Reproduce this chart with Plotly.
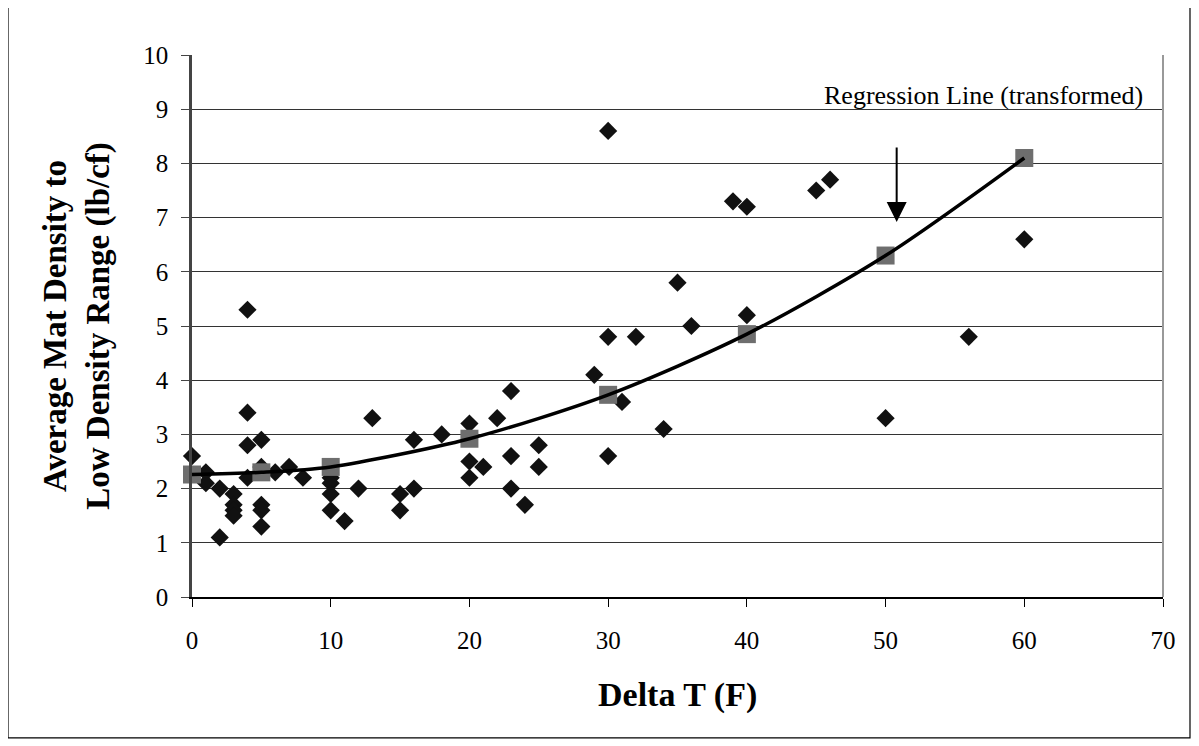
import plotly.graph_objects as go

# Observed data (diamonds)
obs_x = [0, 1, 1, 2, 2, 3, 3, 3, 3, 4, 4, 4, 4, 5, 5, 5, 5, 5, 6, 7, 8,
         10, 10, 10, 10, 11, 12, 13, 15, 15, 16, 16, 18, 20, 20, 20, 21, 22,
         23, 23, 23, 24, 25, 25, 29, 30, 30, 30, 31, 32, 34, 35, 36, 39, 40,
         40, 45, 46, 50, 56, 60]
obs_y = [2.6, 2.3, 2.1, 2.0, 1.1, 1.9, 1.7, 1.6, 1.5, 5.3, 3.4, 2.8, 2.2, 2.9,
         2.4, 1.7, 1.6, 1.3, 2.3, 2.4, 2.2, 2.2, 2.1, 1.9, 1.6, 1.4, 2.0, 3.3,
         1.9, 1.6, 2.9, 2.0, 3.0, 3.2, 2.5, 2.2, 2.4, 3.3, 3.8, 2.6, 2.0, 1.7,
         2.8, 2.4, 4.1, 8.6, 4.8, 2.6, 3.6, 4.8, 3.1, 5.8, 5.0, 7.3, 7.2, 5.2,
         7.5, 7.7, 3.3, 4.8, 6.6]

# Regression (transformed) points (squares)
reg_x = [0, 5, 10, 20, 30, 40, 50, 60]
reg_y = [2.26, 2.3, 2.4, 2.92, 3.73, 4.85, 6.3, 8.1]

x_ticks = [0, 10, 20, 30, 40, 50, 60, 70]
y_ticks = [0, 1, 2, 3, 4, 5, 6, 7, 8, 9, 10]

FONT = "Liberation Serif, Times New Roman, serif"

fig = go.Figure()
fig.add_trace(go.Scatter(
    x=obs_x, y=obs_y, mode="markers",
    marker=dict(symbol="diamond", size=14, color="#111111", line=dict(width=0)),
    showlegend=False, cliponaxis=False))
fig.add_trace(go.Scatter(
    x=reg_x, y=reg_y, mode="markers",
    marker=dict(symbol="square", size=18, color="#6e6e6e", line=dict(width=0)),
    showlegend=False, cliponaxis=False))
fig.add_trace(go.Scatter(
    x=reg_x, y=reg_y, mode="lines",
    line=dict(color="black", width=3.5, shape="spline", smoothing=0.8),
    showlegend=False, cliponaxis=False))

fig.update_layout(
    width=1191, height=738,
    margin=dict(l=184, r=36, t=47, b=149),
    paper_bgcolor="white", plot_bgcolor="white",
    font=dict(family=FONT, color="black", size=25),
    xaxis=dict(range=[0, 70], tickvals=x_ticks, ticks="outside", ticklen=8,
               tickcolor="black", showline=True, linecolor="black", linewidth=1.5,
               showgrid=False, zeroline=False, ticklabelstandoff=12,
               tickfont=dict(family=FONT, size=25)),
    yaxis=dict(range=[0, 10], tickvals=y_ticks, ticks="outside", ticklen=8,
               tickcolor="#444444", showline=True, linecolor="#444444", linewidth=2.5,
               showgrid=True, gridcolor="#333333", gridwidth=1, zeroline=False,
               ticklabelstandoff=8,
               tickfont=dict(family=FONT, size=25),
               title=dict(text="<b>Average Mat Density to<br>Low Density Range (lb/cf)</b>",
                          font=dict(family=FONT, size=33), standoff=24)),
)

# X axis title
fig.add_annotation(x=0.5, y=-0.181, xref="paper", yref="paper", xanchor="center",
                   yanchor="middle", text="<b>Delta T (F)</b>", showarrow=False,
                   font=dict(family=FONT, size=34, color="black"))

# Right border of plot area
fig.add_shape(type="line", xref="paper", yref="paper", x0=1, x1=1, y0=0, y1=1,
              line=dict(color="#999999", width=2))
# Outer chart border
fig.add_shape(type="rect", xref="paper", yref="paper",
              x0=-0.1895, x1=1.0278, y0=-0.2601, y1=1.0886,
              line=dict(color="black", width=1.2))

# Arrow and label
fig.add_annotation(x=50.8, y=6.92, ax=50.8, ay=8.32, xref="x", yref="y",
                   axref="x", ayref="y", text="", showarrow=True,
                   arrowhead=2, arrowsize=2, arrowwidth=2, arrowcolor="black")
fig.add_annotation(x=57.07, y=9.26, xref="x", yref="y", text="Regression Line (transformed)",
                   showarrow=False, font=dict(family=FONT, size=26, color="black"))

fig.write_html("out.html")
